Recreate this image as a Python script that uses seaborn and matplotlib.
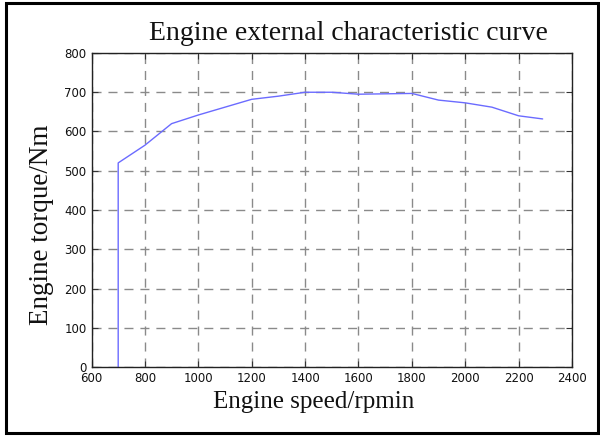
import matplotlib
matplotlib.use("Agg")
import matplotlib.pyplot as plt
import matplotlib.patches as patches
import seaborn as sns
import pandas as pd

# Engine external characteristic: speed (rpm) vs. torque (Nm)
speed = [700, 700, 800, 900, 1000, 1100, 1200, 1300, 1400, 1500,
         1600, 1700, 1800, 1900, 2000, 2100, 2200, 2290]
torque = [0, 520, 565, 620, 642, 662, 682, 690, 700, 700,
          695, 696, 697, 680, 673, 662, 640, 632]

x_ticks = [600, 800, 1000, 1200, 1400, 1600, 1800, 2000, 2200, 2400]
y_ticks = [0, 100, 200, 300, 400, 500, 600, 700, 800]

title = "Engine external characteristic curve"
x_label = "Engine speed/rpmin"
y_label = "Engine torque/Nm"

sns.set_theme(style="white")
plt.rcParams["font.family"] = ["DejaVu Sans"]

df = pd.DataFrame({"speed": speed, "torque": torque})

W, H = 600, 436
fig = plt.figure(figsize=(W / 100, H / 100), dpi=100)
ax = fig.add_axes([91.5 / W, 1 - 367 / H, (572 - 91.5) / W, (367 - 53) / H])

sns.lineplot(data=df, x="speed", y="torque", sort=False, estimator=None,
             color="#6b6bff", linewidth=1.0, ax=ax)

ax.set_xlim(600, 2400)
ax.set_ylim(0, 800)
ax.set_xticks(x_ticks)
ax.set_yticks(y_ticks)
ax.set_xticklabels([str(t) for t in x_ticks])
ax.set_yticklabels([str(t) for t in y_ticks])
ax.set_xlabel("")
ax.set_ylabel("")

ax.grid(True, color="#8a8a8a", linestyle=(0, (6.5, 5)), linewidth=1.0)
ax.set_axisbelow(True)

for sp in ax.spines.values():
    sp.set_visible(True)
    sp.set_color("#222222")
    sp.set_linewidth(1.0)

ax.tick_params(axis="both", which="major", direction="in", length=4, width=0.8,
               top=True, right=True, bottom=True, left=True,
               labelsize=8.5, labelcolor="#111111", color="#333333", pad=3.5)

serif = ["Liberation Serif", "DejaVu Serif"]


def px(x, y):
    return x / W, 1 - y / H


fig.text(*px(149, 40), title, fontsize=20, family=serif, color="#111111",
         ha="left", va="baseline")
fig.text(*px(213, 408), x_label, fontsize=18, family=serif, color="#111111",
         ha="left", va="baseline")
fig.text(*px(48, 225), y_label, fontsize=19.5, family=serif, color="#111111",
         ha="center", va="baseline", rotation=90, rotation_mode="anchor")

# Outer frame around the whole figure
frame = patches.Rectangle((6 / W, 3 / H), 592 / W, 430 / H,
                          transform=fig.transFigure, fill=False,
                          edgecolor="black", linewidth=2.2, zorder=10)
fig.patches.append(frame)

fig.savefig("out.png", dpi=100, facecolor="white")
